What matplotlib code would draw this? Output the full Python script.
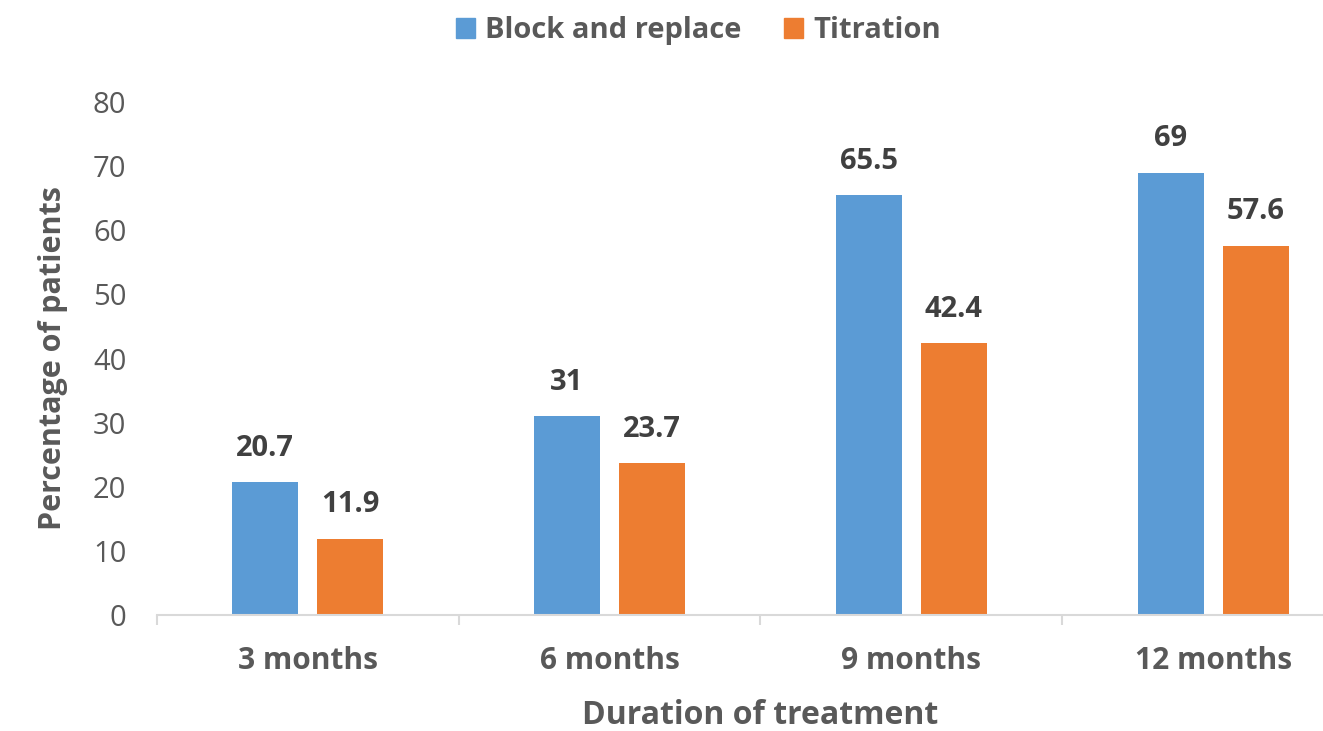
import matplotlib
matplotlib.use("Agg")
import matplotlib.pyplot as plt
from matplotlib.patches import Patch
import numpy as np

plt.rcParams['font.family'] = ['Open Sans', 'DejaVu Sans']

categories = ["3 months", "6 months", "9 months", "12 months"]
block_replace = [20.7, 31, 65.5, 69]
titration = [11.9, 23.7, 42.4, 57.6]
series_names = ["Block and replace", "Titration"]
y_ticks = [0, 10, 20, 30, 40, 50, 60, 70, 80]

blue = "#5B9BD5"
orange = "#ED7D31"
grey = "#595959"
dark = "#404040"

fig = plt.figure(figsize=(13.23, 7.31), dpi=100)
ax = fig.add_axes([157 / 1323, 116 / 731, (1364 - 157) / 1323, 513 / 731])

x = np.arange(len(categories))
w = 0.219
off = 0.141
b1 = ax.bar(x - off, block_replace, w, color=blue)
b2 = ax.bar(x + off, titration, w, color=orange)

# value labels above the bars
for bars, vals in [(b1, block_replace), (b2, titration)]:
    for rect, v in zip(bars, vals):
        ax.annotate(f"{v:g}", (rect.get_x() + rect.get_width() / 2, v),
                    xytext=(0, 19), textcoords="offset points",
                    ha="center", va="baseline", fontsize=21,
                    fontweight="bold", color=dark)

ax.set_xlim(-0.5, len(categories) - 0.5)
ax.set_ylim(0, 80)
ax.set_yticks(y_ticks)
ax.tick_params(axis="y", length=0, pad=22, labelsize=21, labelcolor=grey)

ax.set_xticks(x)
ax.set_xticklabels(categories, fontsize=21.5, fontweight="bold", color=grey)
ax.set_xticks(np.arange(len(categories) + 1) - 0.5, minor=True)
ax.tick_params(axis="x", which="major", length=0, pad=22)
ax.tick_params(axis="x", which="minor", length=7, width=1.5, color="#d9d9d9", direction="out")

for s in ["top", "right", "left"]:
    ax.spines[s].set_visible(False)
ax.spines["bottom"].set_color("#d9d9d9")
ax.spines["bottom"].set_linewidth(1.5)

ax.set_xlabel("Duration of treatment", fontsize=23, fontweight="bold", color=grey, labelpad=17)
ax.set_ylabel("Percentage of patients", fontsize=22, fontweight="bold", color=grey, labelpad=18)

handles = [Patch(color=blue), Patch(color=orange)]
leg = fig.legend(handles, series_names, loc="center", bbox_to_anchor=(0.528, 0.958),
                 ncol=2, frameon=False, handlelength=0.65, handleheight=0.65,
                 handletextpad=0.35, columnspacing=1.45,
                 prop={"size": 21, "weight": "bold"})
for t in leg.get_texts():
    t.set_color(grey)

fig.savefig("out.png", dpi=100)
